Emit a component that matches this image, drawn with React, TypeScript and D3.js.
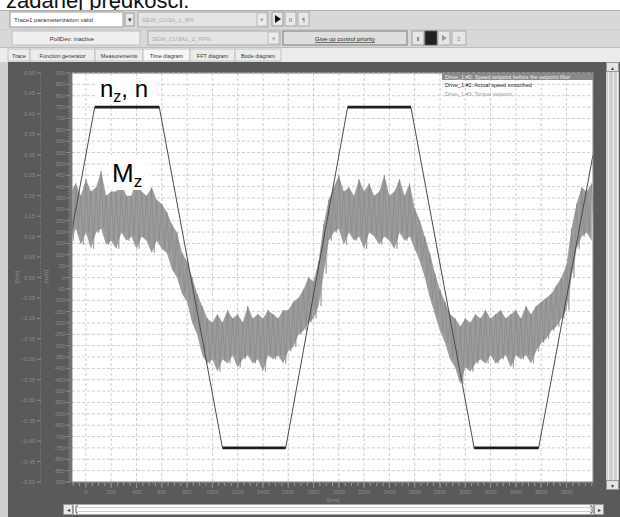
import React from 'react';
import * as d3 from 'd3';

const W = 620;
const H = 517;

// speed setpoint / actual speed, breakpoints of the trapezoid [ms] / [rpm]
const speedTime = [-110, 70, 580, 1080, 1580, 2070, 2570, 3070, 3580, 4010];
const speedRpm = [210, 750, 750, -750, -750, 750, 750, -750, -750, 540];

// torque setpoint band [Nm], one sample pair every 40 ms starting at -120 ms
const torqueStart = -120;
const torqueStep = 40;
const torqueHi = [
  0.21, 0.23, 0.20, 0.24, 0.21, 0.22, 0.26, 0.20, 0.21, 0.21, 0.23, 0.20, 0.20, 0.24, 0.21, 0.20,
  0.22, 0.19, 0.18, 0.16, 0.13, 0.11, 0.06, 0.04, 0.00, -0.04, -0.07, -0.10, -0.11, -0.09, -0.11, -0.08,
  -0.10, -0.09, -0.11, -0.07, -0.10, -0.09, -0.10, -0.08, -0.09, -0.10, -0.08, -0.08, -0.06, -0.05, -0.03, 0.00,
  -0.01, 0.04, 0.13, 0.19, 0.22, 0.25, 0.21, 0.22, 0.20, 0.24, 0.21, 0.23, 0.20, 0.21, 0.25, 0.20,
  0.21, 0.24, 0.20, 0.23, 0.17, 0.14, 0.10, 0.06, 0.01, -0.03, -0.06, -0.09, -0.10, -0.12, -0.10, -0.11,
  -0.09, -0.10, -0.08, -0.10, -0.09, -0.08, -0.10, -0.09, -0.08, -0.10, -0.07, -0.09, -0.07, -0.06, -0.05, -0.04,
  -0.02, 0.00, 0.03, 0.12, 0.18, 0.22, 0.21, 0.23,
];
const torqueLo = [
  0.09, 0.12, 0.08, 0.11, 0.07, 0.11, 0.12, 0.08, 0.09, 0.07, 0.11, 0.09, 0.10, 0.07, 0.10, 0.09,
  0.06, 0.09, 0.07, 0.06, 0.02, 0.00, -0.04, -0.06, -0.11, -0.14, -0.19, -0.21, -0.20, -0.23, -0.20, -0.21,
  -0.19, -0.22, -0.20, -0.19, -0.21, -0.20, -0.23, -0.19, -0.20, -0.19, -0.21, -0.18, -0.17, -0.14, -0.13, -0.11,
  -0.10, -0.07, 0.01, 0.09, 0.11, 0.12, 0.08, 0.11, 0.09, 0.10, 0.07, 0.11, 0.10, 0.08, 0.10, 0.09,
  0.07, 0.11, 0.09, 0.10, 0.07, 0.04, 0.00, -0.05, -0.09, -0.13, -0.16, -0.20, -0.22, -0.26, -0.22, -0.23,
  -0.21, -0.20, -0.21, -0.19, -0.21, -0.20, -0.19, -0.22, -0.19, -0.20, -0.19, -0.21, -0.18, -0.16, -0.15, -0.13,
  -0.12, -0.10, -0.08, 0.00, 0.07, 0.10, 0.11, 0.09,
];

const timeTicks = [0, 200, 400, 600, 800, 1000, 1200, 1400, 1600, 1800, 2000, 2200, 2400, 2600, 2800, 3000, 3200, 3400, 3600, 3800];
const rpmTicks = [
  900, 850, 800, 750, 700, 650, 600, 550, 500, 450, 400, 350, 300, 250, 200, 150, 100, 50, 0,
  -50, -100, -150, -200, -250, -300, -350, -400, -450, -500, -550, -600, -650, -700, -750, -800, -850, -900,
];
const nmTicks = [0.5, 0.45, 0.4, 0.35, 0.3, 0.25, 0.2, 0.15, 0.1, 0.05, 0, -0.05, -0.1, -0.15, -0.2, -0.25, -0.3, -0.35, -0.4, -0.45, -0.5];

const legendItems = [
  'Drive_1.#0: Speed setpoint before the setpoint filter',
  'Drive_1.#2: Actual speed smoothed',
  'Drive_1.#3: Torque setpoint',
];
const tabs = ['Trace', 'Function generator', 'Measurements', 'Time diagram', 'FFT diagram', 'Bode diagram'];
const tabEdges = [8, 30, 95, 143, 190, 235, 281];

const plot = { left: 72, right: 593, top: 73, bottom: 482 };
const ui = 'Liberation Sans, Arial, sans-serif';
const panel = '#5a5a5a';
const faint = '#8d8d8d';

const App: React.FC = () => {
  const x = d3.scaleLinear().domain([-110, 4010]).range([plot.left, plot.right]);
  const yRpm = d3.scaleLinear().domain([-900, 900]).range([plot.bottom, plot.top]);
  const yNm = d3.scaleLinear().domain([-0.5, 0.5]).range([plot.bottom, plot.top]);

  const tAt = (i: number) => torqueStart + i * torqueStep;

  // smeared torque band, plus the hi/lo samples joined as a noise trace
  const band = d3
    .area<number>()
    .x((_, i) => x(tAt(i)))
    .y0((_, i) => yNm(torqueLo[i]))
    .y1(d => yNm(d));
  const zig: [number, number][] = [];
  torqueHi.forEach((h, i) => {
    zig.push([x(tAt(i)), yNm(h)]);
    zig.push([x(tAt(i) + torqueStep / 2), yNm(torqueLo[i])]);
  });
  const zigPath = d3.line()(zig) ?? '';

  const speedPath =
    d3
      .line<number>()
      .x((_, i) => x(speedTime[i]))
      .y(d => yRpm(d))(speedRpm) ?? '';
  const plateaus = speedRpm
    .map((v, i) => (i < speedRpm.length - 1 && v === speedRpm[i + 1] ? i : -1))
    .filter(i => i >= 0);

  const minorT = d3.range(-100, 4001, 50);
  const minorRpm = d3.range(-900, 901, 10);

  return (
    <svg width={W} height={H} style={{ position: 'absolute', left: 0, top: 0 }} fontFamily={ui}>
      <rect width={W} height={H} fill="#fff" />
      {/* caption cut off at the top */}
      <text x={6} y={8} fontSize={22} fill="#111">zadanej prędkości.</text>

      {/* window chrome */}
      <rect x={0} y={10} width={W} height={52} fill="#d8d8d8" />
      <line x1={0} x2={W} y1={10.5} y2={10.5} stroke="#b0b0b0" />
      <rect x={10} y={12} width={113} height={15} fill="#fff" stroke="#9a9a9a" />
      <text x={14} y={22} fontSize={6} fill="#333">Trace1 parameterization valid</text>
      <rect x={125} y={13} width={9} height={13} fill="#e8e8e8" stroke="#999" />
      <text x={129.5} y={22} fontSize={7} textAnchor="middle" fill="#333">▾</text>
      <rect x={138} y={12} width={130} height={15} fill="#e4e4e4" stroke="#aaa" />
      <text x={142} y={22} fontSize={6} fill="#aaa">SEW_CU3A_1_RN</text>
      <rect x={257} y={13} width={10} height={13} fill="#ececec" stroke="#bbb" />
      <text x={262} y={22} fontSize={7} textAnchor="middle" fill="#aaa">▾</text>
      <rect x={272} y={12} width={11} height={14} fill="#e8e8e8" stroke="#999" />
      <path d="M275,15 L281,19 L275,23 Z" fill="#111" />
      <rect x={285} y={12} width={11} height={14} fill="#e8e8e8" stroke="#aaa" />
      <text x={290.5} y={22} fontSize={6} textAnchor="middle" fill="#666">II</text>
      <rect x={298} y={12} width={11} height={14} fill="#e8e8e8" stroke="#aaa" />
      <text x={303.5} y={22} fontSize={6} textAnchor="middle" fill="#666">¶</text>

      <line x1={0} x2={W} y1={29.5} y2={29.5} stroke="#cbcbcb" />
      <rect x={12} y={31} width={128} height={14} fill="#efefef" stroke="#bdbdbd" />
      <text x={72} y={41} fontSize={6} textAnchor="middle" fill="#333">PollDev: inactive</text>
      <rect x={148} y={31} width={132} height={14} fill="#e4e4e4" stroke="#aaa" />
      <text x={152} y={41} fontSize={6} fill="#aaa">SEW_CU3A1_2_RPN</text>
      <rect x={268} y={32} width={11} height={12} fill="#ececec" stroke="#bbb" />
      <text x={273.5} y={41} fontSize={7} textAnchor="middle" fill="#aaa">▾</text>
      <rect x={283} y={31} width={124} height={14} fill="#dedede" stroke="#7a7a7a" />
      <text x={345} y={41} fontSize={6} textAnchor="middle" fill="#222" textDecoration="underline">Give up control priority</text>
      <rect x={412} y={31} width={12} height={14} fill="#e6e6e6" stroke="#999" />
      <text x={418} y={41} fontSize={6} textAnchor="middle" fill="#333">‖</text>
      <rect x={425} y={31} width={12} height={14} fill="#222" stroke="#555" />
      <rect x={438} y={31} width={12} height={14} fill="#e6e6e6" stroke="#aaa" />
      <path d="M442,35 L447,38 L442,41 Z" fill="#999" />
      <rect x={452} y={31} width={14} height={14} fill="#e6e6e6" stroke="#aaa" />
      <text x={459} y={41} fontSize={6} textAnchor="middle" fill="#888">≡</text>

      <rect x={0} y={48} width={W} height={14} fill="#ececec" />
      <line x1={0} x2={W} y1={47.5} y2={47.5} stroke="#bdbdbd" />
      {tabs.map((t, i) => (
        <g key={t}>
          <rect
            x={tabEdges[i]}
            y={49}
            width={tabEdges[i + 1] - tabEdges[i]}
            height={12}
            fill={i === 3 ? '#f6f6f6' : '#ececec'}
            stroke="#a8a8a8"
            strokeWidth={0.6}
          />
          <text x={(tabEdges[i] + tabEdges[i + 1]) / 2} y={58} fontSize={5.5} textAnchor="middle" fill="#333">
            {t}
          </text>
        </g>
      ))}

      {/* dark diagram panel */}
      <rect x={0} y={62} width={8} height={H - 62} fill="#cfcfcf" />
      <rect x={8} y={62} width={W - 8} height={H - 62} fill={panel} />

      {/* right scrollbar */}
      <rect x={606} y={62} width={13} height={428} fill="#cfcfcf" />
      <line x1={608.5} x2={608.5} y1={72} y2={480} stroke="#f2f2f2" />
      <line x1={613.5} x2={613.5} y1={72} y2={480} stroke="#f2f2f2" />
      <line x1={617.5} x2={617.5} y1={72} y2={480} stroke="#f2f2f2" />
      <rect x={606.5} y={62.5} width={12} height={9} fill="#e4e4e4" stroke="#999" />
      <text x={612.5} y={70} fontSize={6} textAnchor="middle" fill="#444">▴</text>
      <rect x={606.5} y={480.5} width={12} height={9} fill="#e4e4e4" stroke="#999" />
      <text x={612.5} y={488} fontSize={6} textAnchor="middle" fill="#444">▾</text>

      {/* bottom scrollbar */}
      <rect x={63.5} y={504.5} width={9} height={10} fill="#e8e8e8" stroke="#999" />
      <text x={68} y={512} fontSize={6} textAnchor="middle" fill="#333">◂</text>
      <rect x={73.5} y={504.5} width={520} height={10} fill="#fff" stroke="#aaa" />
      <path d="M78,506 L76,506 L76,513 L78,513 M590,506 L592,506 L592,513 L590,513" fill="none" stroke="#555" />
      <line x1={76} x2={592} y1={507.5} y2={507.5} stroke="#ccc" />
      <line x1={76} x2={592} y1={511.5} y2={511.5} stroke="#ccc" />
      <rect x={594.5} y={504.5} width={9} height={10} fill="#e8e8e8" stroke="#999" />
      <text x={599} y={512} fontSize={6} textAnchor="middle" fill="#333">▸</text>

      {/* plot area */}
      <defs>
        <clipPath id="plotClip">
          <rect x={plot.left} y={plot.top} width={plot.right - plot.left} height={plot.bottom - plot.top} />
        </clipPath>
      </defs>
      <rect x={plot.left} y={plot.top} width={plot.right - plot.left} height={plot.bottom - plot.top} fill="#fff" />
      {rpmTicks.map(v => (
        <line key={'h' + v} x1={plot.left} x2={plot.right} y1={yRpm(v)} y2={yRpm(v)} stroke="#cfcfcf" strokeDasharray="3,2" />
      ))}
      {timeTicks.map(v => (
        <line key={'v' + v} x1={x(v)} x2={x(v)} y1={plot.top} y2={plot.bottom} stroke="#cfcfcf" strokeDasharray="3,2" />
      ))}

      <g clipPath="url(#plotClip)">
        <path d={band(torqueHi) ?? ''} fill="#9c9c9c" />
        <path d={zigPath} fill="none" stroke="#858585" strokeWidth={0.6} />
        <path d={speedPath} fill="none" stroke="#4a4a4a" strokeWidth={1} />
        {plateaus.map(i => (
          <line
            key={'p' + i}
            x1={x(speedTime[i])}
            x2={x(speedTime[i + 1])}
            y1={yRpm(speedRpm[i])}
            y2={yRpm(speedRpm[i + 1])}
            stroke="#1e1e1e"
            strokeWidth={2.6}
          />
        ))}
      </g>
      <rect x={plot.left} y={plot.top} width={plot.right - plot.left} height={plot.bottom - plot.top} fill="none" stroke="#8a8a8a" />

      {/* legend */}
      <rect x={442} y={73} width={151} height={7} fill="#8a8a8a" />
      {legendItems.map((t, i) => (
        <text key={t} x={445} y={78.5 + i * 8.5} fontSize={5.5} fill={i === 0 ? '#eeeeee' : i === 1 ? '#222' : '#9a9a9a'}>
          {t}
        </text>
      ))}

      {/* torque axis (outer) */}
      <line x1={40.5} x2={40.5} y1={plot.top} y2={plot.bottom} stroke="#7c7c7c" strokeDasharray="1,1.5" />
      {nmTicks.map(v => (
        <g key={'n' + v}>
          <line x1={37} x2={41} y1={yNm(v)} y2={yNm(v)} stroke={faint} />
          <text x={35} y={yNm(v) + 2} fontSize={5.5} textAnchor="end" fill={faint}>
            {d3.format('.2f')(v)}
          </text>
        </g>
      ))}
      <text transform="translate(19,277) rotate(-90)" fontSize={6} textAnchor="middle" fill={faint}>[Nm]</text>

      {/* speed axis (inner) */}
      {minorRpm.map(v => (
        <line key={'mr' + v} x1={68} x2={70} y1={yRpm(v)} y2={yRpm(v)} stroke="#7c7c7c" />
      ))}
      <line x1={70.5} x2={70.5} y1={plot.top} y2={plot.bottom} stroke="#777" />
      {rpmTicks.map(v => (
        <g key={'r' + v}>
          <line x1={66} x2={70} y1={yRpm(v)} y2={yRpm(v)} stroke={faint} />
          <text x={65} y={yRpm(v) + 2} fontSize={5.5} textAnchor="end" fill={faint}>
            {v}
          </text>
        </g>
      ))}
      <text transform="translate(48,277) rotate(-90)" fontSize={6} textAnchor="middle" fill={faint}>[rpm]</text>

      {/* time axis */}
      {minorT.map(v => (
        <line key={'mt' + v} x1={x(v)} x2={x(v)} y1={plot.bottom + 1} y2={plot.bottom + 4} stroke="#9a9a9a" />
      ))}
      {timeTicks.map(v => (
        <g key={'t' + v}>
          <line x1={x(v)} x2={x(v)} y1={plot.bottom + 1} y2={plot.bottom + 6} stroke={faint} />
          <text x={x(v)} y={494} fontSize={5.5} textAnchor="middle" fill={faint}>
            {v}
          </text>
        </g>
      ))}
      <text x={333} y={502} fontSize={6} textAnchor="middle" fill={faint}>t[ms]</text>

      {/* annotations */}
      <rect x={97} y={79} width={62} height={25} fill="#fff" />
      <text x={100} y={97} fontSize={24} fill="#000">
        n<tspan fontSize={16} dy={5}>z</tspan>
        <tspan dy={-5}>, n</tspan>
      </text>
      <rect x={109} y={155} width={40} height={35} fill="#fff" />
      <text x={112} y={182} fontSize={26} fill="#000">
        M<tspan fontSize={17} dy={5}>z</tspan>
      </text>
    </svg>
  );
};

export default App;
